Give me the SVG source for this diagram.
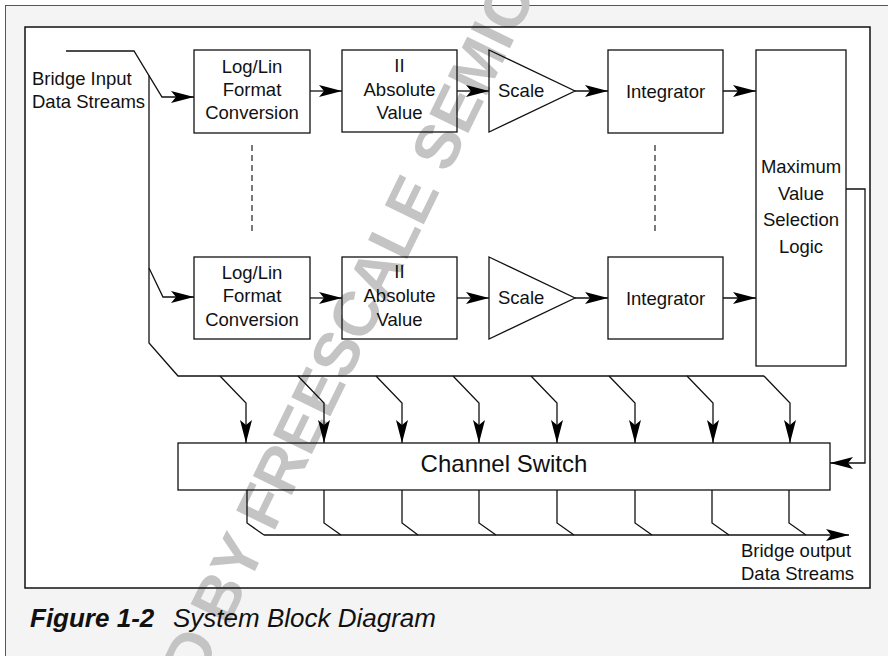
<svg xmlns="http://www.w3.org/2000/svg" width="888" height="656" viewBox="0 0 888 656">
<style>
.bg{fill:#f4f4f4;stroke:#555;stroke-width:1}
.panel{fill:#fff}
.panelb{fill:none;stroke:#111;stroke-width:1.5}
.box{fill:none;stroke:#111;stroke-width:1.3}
.ln{fill:none;stroke:#111;stroke-width:1.3}
.arr{fill:none;stroke:#111;stroke-width:1.3;marker-end:url(#ah)}
.dash{fill:none;stroke:#333;stroke-width:1.3;stroke-dasharray:6 4}
.t{font-family:"Liberation Sans",Arial,Helvetica,sans-serif;font-size:18.5px;fill:#111}
.c{text-anchor:middle}
.big{font-size:24px}
.wm{font-family:"Liberation Sans",Arial,sans-serif;font-weight:bold;font-size:63px;fill:#c4c4c4}
.cap{font-family:"Liberation Sans",Arial,sans-serif;font-size:26px;font-style:italic;fill:#111}
</style>
<defs>
<marker id="ah" markerUnits="userSpaceOnUse" markerWidth="23" markerHeight="12" refX="23" refY="6" orient="auto"><path d="M0,0 L23,6 L0,12 L5,6 Z" fill="#000"/></marker>
</defs>
<rect x="0" y="0" width="888" height="656" fill="#fff"/>
<rect class="bg" x="5.5" y="5.5" width="900" height="700"/>
<rect class="panel" x="25" y="27" width="845" height="561"/>
<g id="watermark">
<text class="wm" x="0" y="0" transform="translate(75.8,938.1) rotate(-64)">ARCHIVED BY FREESCALE SEMICONDUCTOR, INC.</text>
</g>
<rect class="panelb" x="25" y="27" width="845" height="561"/>

<g id="input-label">
<text class="t" x="32" y="85">Bridge Input</text>
<text class="t" x="32" y="108">Data Streams</text>
</g>
<g id="loglin-1">
<rect class="box" x="194" y="50" width="116" height="83"/>
<text class="t c" x="252" y="73">Log/Lin</text>
<text class="t c" x="252" y="96">Format</text>
<text class="t c" x="252" y="119">Conversion</text>
</g>
<g id="abs-1">
<rect class="box" x="342" y="50" width="115" height="82"/>
<text class="t c" x="399.5" y="72">II</text>
<text class="t c" x="399.5" y="96">Absolute</text>
<text class="t c" x="399.5" y="119">Value</text>
</g>
<g id="scale-1">
<path class="box" d="M489,50 L575,91 L489,132 Z"/>
<text class="t" x="498" y="97">Scale</text>
</g>
<g id="integrator-1">
<rect class="box" x="608" y="50" width="115" height="83"/>
<text class="t c" x="665.5" y="98">Integrator</text>
</g>
<g id="loglin-2">
<rect class="box" x="194" y="257" width="116" height="82"/>
<text class="t c" x="252" y="279">Log/Lin</text>
<text class="t c" x="252" y="302">Format</text>
<text class="t c" x="252" y="326">Conversion</text>
</g>
<g id="abs-2">
<rect class="box" x="342" y="257" width="115" height="82"/>
<text class="t c" x="399.5" y="278">II</text>
<text class="t c" x="399.5" y="302">Absolute</text>
<text class="t c" x="399.5" y="326">Value</text>
</g>
<g id="scale-2">
<path class="box" d="M489,257 L575,298 L489,339 Z"/>
<text class="t" x="498" y="304">Scale</text>
</g>
<g id="integrator-2">
<rect class="box" x="608" y="257" width="115" height="82"/>
<text class="t c" x="665.5" y="305">Integrator</text>
</g>
<g id="max-select">
<rect class="box" x="756" y="50" width="90" height="316"/>
<text class="t c" x="801" y="173">Maximum</text>
<text class="t c" x="801" y="199.5">Value</text>
<text class="t c" x="801" y="226">Selection</text>
<text class="t c" x="801" y="253">Logic</text>
</g>
<g id="channel-switch">
<rect class="box" x="178" y="443" width="652" height="47"/>
<text class="t c big" x="504" y="472">Channel Switch</text>
</g>
<g id="output-label">
<text class="t" x="741" y="557">Bridge output</text>
<text class="t" x="741" y="580">Data Streams</text>
</g>

<g id="connectors">
<path class="arr" d="M66,51 H134 L162,97 H194"/>
<path class="ln" d="M149,75.6 V343 L178,376 H764"/>
<path class="arr" d="M149,268 L163,297 H194"/>
<path class="dash" d="M252,145 V235"/>
<path class="dash" d="M655,145 V235"/>
<path class="arr" d="M310,91 H342"/>
<path class="arr" d="M457,91 H489"/>
<path class="arr" d="M575,91 H608"/>
<path class="arr" d="M723,91 H756"/>
<path class="arr" d="M310,298 H342"/>
<path class="arr" d="M457,298 H489"/>
<path class="arr" d="M575,298 H608"/>
<path class="arr" d="M723,298 H756"/>
<path class="arr" d="M846,189 H865 V463 H830"/>
<path class="arr" d="M220,376 L246,403 V443"/>
<path class="arr" d="M298,376 L324,403 V443"/>
<path class="arr" d="M376,376 L402,403 V443"/>
<path class="arr" d="M453,376 L479,403 V443"/>
<path class="arr" d="M531,376 L557,403 V443"/>
<path class="arr" d="M609,376 L635,403 V443"/>
<path class="arr" d="M687,376 L713,403 V443"/>
<path class="arr" d="M764,376 L790,403 V443"/>
<path class="ln" d="M247,490 V523 L264,535"/>
<path class="ln" d="M324,490 V523 L341,535"/>
<path class="ln" d="M402,490 V523 L418,535"/>
<path class="ln" d="M479,490 V523 L496,535"/>
<path class="ln" d="M557,490 V523 L574,535"/>
<path class="ln" d="M635,490 V523 L652,535"/>
<path class="ln" d="M712,490 V523 L729,535"/>
<path class="ln" d="M789,490 V523 L806,535"/>
<path class="arr" d="M264,535 H849"/>
</g>

<g id="caption">
<text class="cap" x="30" y="627"><tspan font-weight="bold">Figure 1-2</tspan><tspan x="173">System Block Diagram</tspan></text>
</g>
</svg>
